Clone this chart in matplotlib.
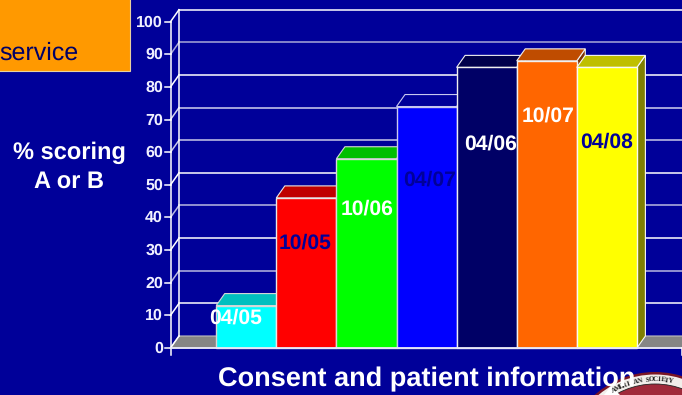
import numpy as np
import matplotlib
matplotlib.use('Agg')
import matplotlib.pyplot as plt
from matplotlib.patches import Polygon, Rectangle, Circle

plt.rcParams['font.family'] = ['Liberation Sans', 'DejaVu Sans']
plt.rcParams['text.hinting'] = 'none'

# scores per audit round
rounds = ['04/05', '10/05', '10/06', '04/07', '04/06', '10/07', '04/08']
scores = [13, 46, 58, 74, 86, 88, 86]
yticks = [0, 10, 20, 30, 40, 50, 60, 70, 80, 90, 100]

front_cols = ['#00ffff', '#ff0000', '#00ff00', '#0000ff', '#000066', '#ff6600', '#ffff00']
top_cols = ['#00bfbf', '#bf0000', '#00bf00', '#000099', '#00004c', '#bf4c00', '#bfbf00']
side_cols = ['#007f7f', '#7f0000', '#007f00', '#00007f', '#000033', '#7f3300', '#7f7f00']
edge_cols = ['#d8d8d8', '#e8e8e8', '#d8d8d8', '#c8c8f0', '#f0f0f0', '#f0f0f0', '#f8f8f8']
label_cols = ['white', '#000099', 'white', '#000099', 'white', 'white', '#000099']
# label centres as (bar units, percent)
label_pos = [(0.33, 9.2), (1.48, 32.0), (2.51, 42.7), (3.55, 51.3), (4.56, 62.4), (5.53, 71.2), (6.5, 63.0)]
grid_cols = ['white', 'white', '#b8b8e0', 'white', '#b8b8e0', 'white', '#c8c8e8', '#d0d0f0', 'white', '#a8a8d8', 'white']

BG = '#000099'
W, H = 682, 395
px_bar = 60.1
px_pct = 3.263
x0_px, y0_px = 216.2, 348.0

fig = plt.figure(figsize=(W / 100, H / 100), dpi=100, facecolor=BG)
ax = fig.add_axes([0, 0, 1, 1])
ax.set_xlim((0 - x0_px) / px_bar, (W - x0_px) / px_bar)
ax.set_ylim((y0_px - H) / px_pct, y0_px / px_pct)
ax.axis('off')

dx = 8.5 / px_bar
dy = 12.0 / px_pct
left = (170.5 - x0_px) / px_bar
right = (W + 5 - x0_px) / px_bar


def to_data(px, py):
    return (px - x0_px) / px_bar, (y0_px - py) / px_pct


# floor
ax.add_patch(Polygon([(left, 0), (left + dx, dy), (right, dy), (right, 0)], fc='#858585', ec='#c0c0c0', lw=0.8, zorder=1))

# walls and gridlines
for v, c in zip(yticks, grid_cols):
    if v > 0:
        ax.plot([left + dx, right], [v + dy, v + dy], color=c, lw=1.1, zorder=1)
    ax.plot([left, left + dx], [v, v + dy], color=c, lw=1.1, zorder=1)
    ax.plot([left - 5.5 / px_bar, left], [v, v], color='white', lw=1.1, zorder=1)
    ax.text(left - 7.5 / px_bar, v - 0.2, str(v), color='#f0f0ff', fontsize=11.5, fontweight='bold',
            ha='right', va='center', zorder=5)
ax.plot([left, left], [-2.2, 100], color='white', lw=1.1, zorder=1)
ax.plot([left + dx, left + dx], [dy, 100 + dy], color='white', lw=1.1, zorder=1)

# bars, left to right so each one hides the side of the previous
for i, v in enumerate(scores):
    ax.add_patch(Polygon([(i + 1, 0), (i + 1 + dx, dy), (i + 1 + dx, v + dy), (i + 1, v)],
                         fc=side_cols[i], ec=edge_cols[i], lw=0.8, zorder=2 + i * 0.1))
    ax.add_patch(Polygon([(i, v), (i + dx, v + dy), (i + 1 + dx, v + dy), (i + 1, v)],
                         fc=top_cols[i], ec=edge_cols[i], lw=0.8, zorder=2 + i * 0.1))
    ax.add_patch(Rectangle((i, 0), 1, v, fc=front_cols[i], ec=edge_cols[i], lw=1.0, zorder=2 + i * 0.1))

ax.plot([left, right], [0, 0], color='#e8e8f8', lw=1.3, zorder=3)
tick_x = to_data(681.5, 0)[0]
ax.plot([tick_x, tick_x], [0, -2.2], color='white', lw=1.1, zorder=3)

for name, pos, c in zip(rounds, label_pos, label_cols):
    ax.text(pos[0], pos[1], name, color=c, fontsize=15.2, fontweight='bold', ha='center', va='center', zorder=6)

# orange banner, cut off by the slide edge
bx, by = to_data(-3, 71)
bx2, by2 = to_data(129.5, -3)
ax.add_patch(Rectangle((bx, by), bx2 - bx, by2 - by, fc='#ff9900', ec='#e8d0a0', lw=0.8, zorder=4))
ax.text(*to_data(-1, 53), 'service', color='#000066', fontsize=18, ha='left', va='center', zorder=6)

ax.text(*to_data(69, 153), '% scoring', color='white', fontsize=17, fontweight='bold', ha='center', va='center')
ax.text(*to_data(69, 182), 'A or B', color='white', fontsize=17, fontweight='bold', ha='center', va='center')

# society seal, only its upper part is on the slide
sx, sy = 655.0, 463.0
ax_seal = fig.add_axes([0, 0, 1, 1])
ax_seal.set_xlim(0, W)
ax_seal.set_ylim(H, 0)
ax_seal.axis('off')
ax_seal.add_patch(Circle((sx, sy), 91, fc='#7a1626', ec='none'))
ax_seal.add_patch(Circle((sx, sy), 88.5, fc='#f2eeea', ec='none'))
ax_seal.add_patch(Circle((sx, sy), 79, fc='#a02a3a', ec='#222222', lw=0.6))
seal_text = 'AMERICAN SOCIETY FOR'
for i, ch in enumerate(seal_text):
    a = -29 + i * 2.65
    t = np.deg2rad(a)
    px, py = sx + 83.5 * np.sin(t), sy - 83.5 * np.cos(t)
    if px < 678 and py < 391:
        ax_seal.text(px, py, ch, fontsize=5, color='#1a1a1a', family='Liberation Serif',
                     fontweight='bold', rotation=-a, ha='center', va='center')
ax_seal.add_patch(Polygon([(604, 395), (611, 386), (620, 395)], fc='white', ec='none'))

# title sits over the seal
fig.text(427 / W, 1 - 379 / H, 'Consent and patient information', color='white', fontsize=19.5, fontweight='bold',
         ha='center', va='center', zorder=8)

fig.savefig('out.png', dpi=100, facecolor=BG)
